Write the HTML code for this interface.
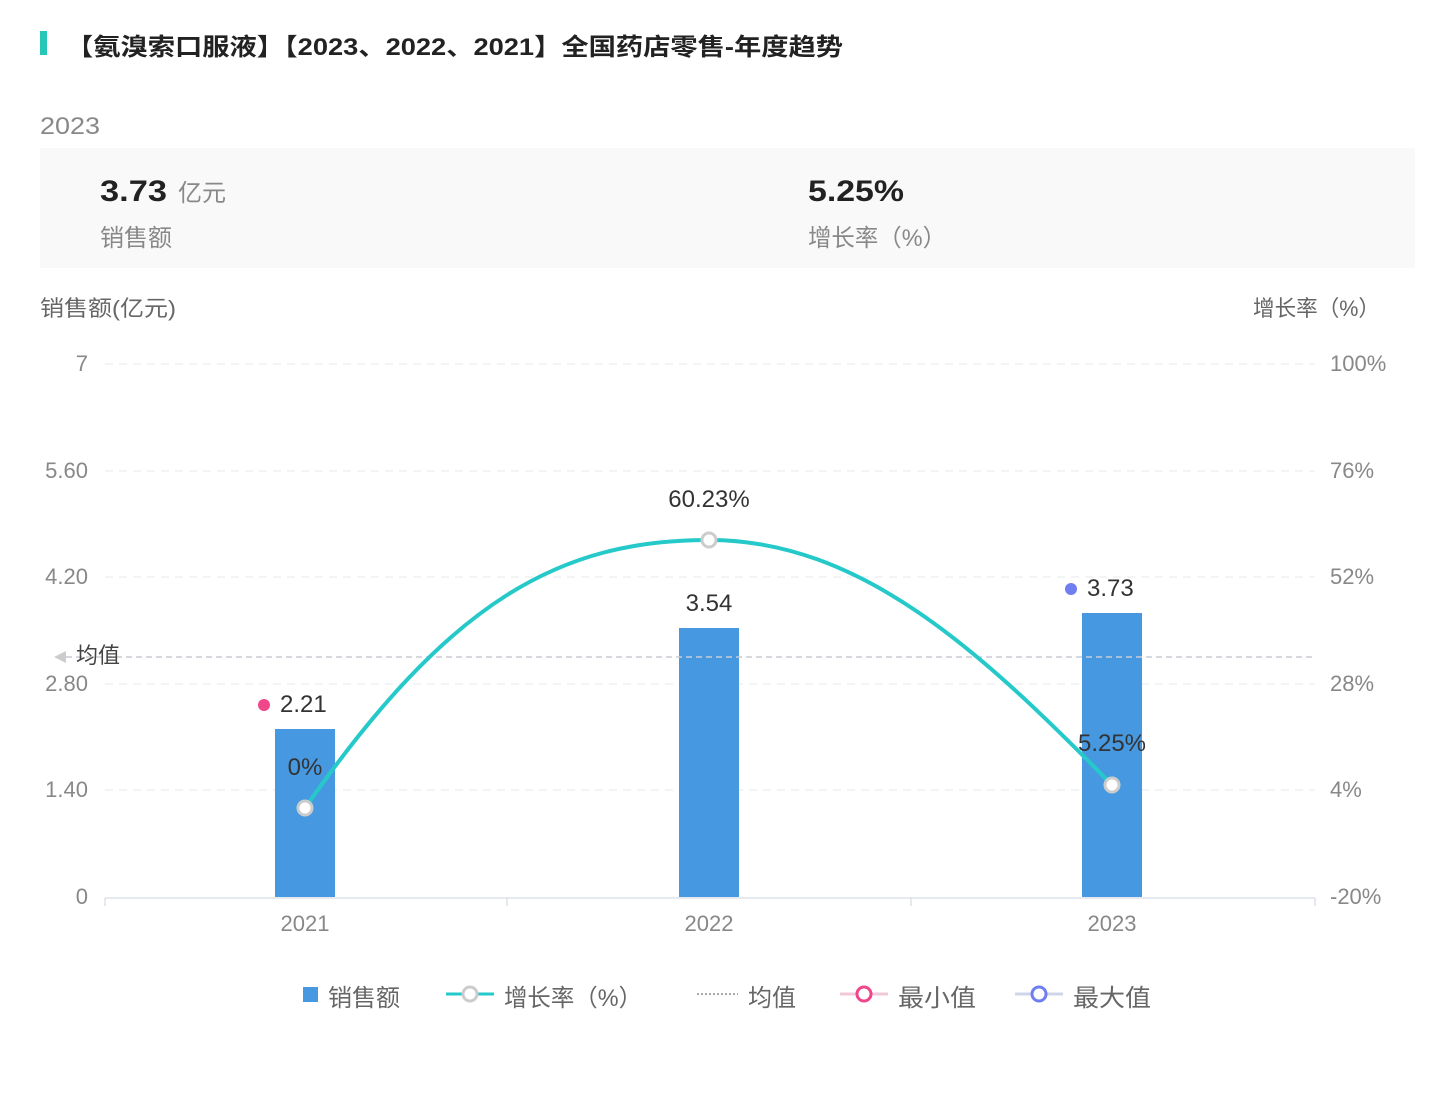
<!DOCTYPE html>
<html><head><meta charset="utf-8"><style>
body{margin:0;width:1456px;height:1106px;background:#fff;font-family:"Liberation Sans","Noto Sans CJK SC",sans-serif;overflow:hidden}
</style></head><body>
<svg width="1456" height="1106" xmlns="http://www.w3.org/2000/svg" font-family="Liberation Sans, Noto Sans CJK SC, sans-serif">
<rect x="40" y="31" width="7" height="24" fill="#26c6b8"/>
<text x="66" y="55" font-size="24" font-weight="bold" fill="#222" textLength="777" lengthAdjust="spacingAndGlyphs">【氨溴索口服液】【2023、2022、2021】全国药店零售-年度趋势</text>
<text x="40" y="134" font-size="24" fill="#888" textLength="60" lengthAdjust="spacingAndGlyphs">2023</text>
<rect x="40" y="148" width="1375" height="120" fill="#f9f9f9"/>
<text x="100" y="201" font-size="30" font-weight="bold" fill="#222" textLength="67" lengthAdjust="spacingAndGlyphs">3.73</text>
<text x="178" y="201" font-size="24" fill="#888">亿元</text>
<text x="100" y="246" font-size="24" fill="#888">销售额</text>
<text x="808" y="201" font-size="30" font-weight="bold" fill="#222" textLength="96" lengthAdjust="spacingAndGlyphs">5.25%</text>
<text x="808" y="246" font-size="24" fill="#888" textLength="138" lengthAdjust="spacingAndGlyphs">增长率（%）</text>
<text x="40" y="316" font-size="22" fill="#666" textLength="136" lengthAdjust="spacingAndGlyphs">销售额(亿元)</text>
<text x="1380" y="316" font-size="22" fill="#666" text-anchor="end" textLength="127" lengthAdjust="spacingAndGlyphs">增长率（%）</text>
<g stroke="#e6e8ec" stroke-dasharray="8,6" stroke-width="1">
<line x1="105" y1="364" x2="1315" y2="364"/><line x1="105" y1="471" x2="1315" y2="471"/>
<line x1="105" y1="577" x2="1315" y2="577"/><line x1="105" y1="684" x2="1315" y2="684"/>
<line x1="105" y1="790" x2="1315" y2="790"/></g>
<g font-size="22" fill="#888" text-anchor="end">
<text x="88" y="371">7</text><text x="88" y="478">5.60</text><text x="88" y="584">4.20</text>
<text x="88" y="691">2.80</text><text x="88" y="797">1.40</text><text x="88" y="904">0</text></g>
<g font-size="22" fill="#888">
<text x="1330" y="371">100%</text><text x="1330" y="478">76%</text><text x="1330" y="584">52%</text>
<text x="1330" y="691">28%</text><text x="1330" y="797">4%</text><text x="1330" y="904">-20%</text></g>
<rect x="275" y="729" width="60" height="168" fill="#4699e0"/>
<rect x="679" y="628" width="60" height="269" fill="#4699e0"/>
<rect x="1082" y="613" width="60" height="284" fill="#4699e0"/>
<line x1="105" y1="898" x2="1315" y2="898" stroke="#ccd3dc"/>
<g stroke="#ccd3dc"><line x1="105" y1="898" x2="105" y2="906"/><line x1="507" y1="898" x2="507" y2="906"/><line x1="911" y1="898" x2="911" y2="906"/><line x1="1315" y1="898" x2="1315" y2="906"/></g>
<g font-size="22" fill="#888" text-anchor="middle"><text x="305" y="931">2021</text><text x="709" y="931">2022</text><text x="1112" y="931">2023</text></g>
<line x1="66" y1="657" x2="1315" y2="657" stroke="#c8ccd4" stroke-dasharray="6,4" stroke-width="1.5"/>
<polygon points="54,657 66,651 66,663" fill="#ccc"/>
<text x="76" y="663" font-size="22" fill="#444">均值</text>
<path d="M305,808 C450,600 560,540 709,540 C860,540 980,650 1112,785" fill="none" stroke="#26c9c9" stroke-width="4"/>
<g fill="#fff" stroke="#ccc" stroke-width="3"><circle cx="305" cy="808" r="7"/><circle cx="709" cy="540" r="7"/><circle cx="1112" cy="785" r="7"/></g>
<g font-size="24" fill="#333" text-anchor="middle">
<text x="305" y="775">0%</text><text x="709" y="507">60.23%</text><text x="1112" y="751">5.25%</text>
<text x="709" y="611">3.54</text></g>
<circle cx="264" cy="705" r="6" fill="#f0468a"/><text x="280" y="712" font-size="24" fill="#333">2.21</text>
<circle cx="1071" cy="589" r="6" fill="#6f7ef0"/><text x="1087" y="596" font-size="24" fill="#333">3.73</text>
<rect x="303" y="987" width="15" height="15" fill="#4699e0"/>
<text x="328" y="1006" font-size="24" fill="#666">销售额</text>
<line x1="446" y1="994" x2="494" y2="994" stroke="#26c9c9" stroke-width="3"/><circle cx="470" cy="994" r="7" fill="#fff" stroke="#ccc" stroke-width="3"/>
<text x="504" y="1006" font-size="24" fill="#666" textLength="138" lengthAdjust="spacingAndGlyphs">增长率（%）</text>
<line x1="697" y1="994" x2="738" y2="994" stroke="#aaa" stroke-dasharray="2,2" stroke-width="2"/>
<text x="748" y="1006" font-size="24" fill="#666">均值</text>
<line x1="840" y1="994" x2="888" y2="994" stroke="#f0c8d8" stroke-width="3"/><circle cx="864" cy="994" r="7" fill="#fff" stroke="#f0468a" stroke-width="3"/>
<text x="898" y="1006" font-size="24" fill="#666" textLength="78" lengthAdjust="spacingAndGlyphs">最小值</text>
<line x1="1015" y1="994" x2="1063" y2="994" stroke="#d0d4e8" stroke-width="3"/><circle cx="1039" cy="994" r="7" fill="#fff" stroke="#6f7ef0" stroke-width="3"/>
<text x="1073" y="1006" font-size="24" fill="#666" textLength="78" lengthAdjust="spacingAndGlyphs">最大值</text>
</svg>
</body></html>
